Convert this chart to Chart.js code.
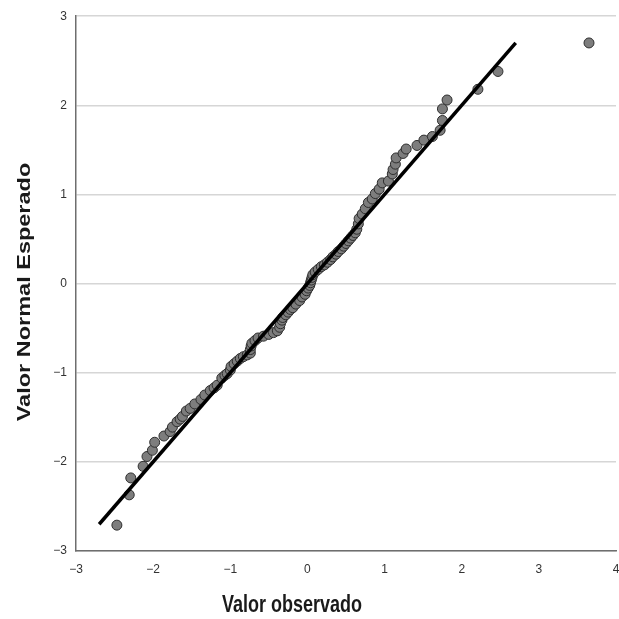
<!DOCTYPE html>
<html>
<head>
<meta charset="utf-8">
<script src="https://cdn.jsdelivr.net/npm/chart.js@4/dist/chart.umd.min.js"></script>
<style>
    html, body { margin: 0; padding: 0; background: #fff; overflow: hidden; }
    #wrap { width: 619px; height: 619px; overflow: hidden; }
</style>
</head>
<body>
<div id="wrap"><canvas id="qqChart" width="622" height="619"></canvas></div>
<script>
const observado = [
    -2.47, -2.31, -2.29, -2.13, -2.08, -2.01, -1.98, -1.86, -1.78, -1.75,
    -1.69, -1.65, -1.62, -1.57, -1.52, -1.46, -1.38, -1.33, -1.26, -1.21,
    -1.17, -1.11, -1.07, -1.04, -1.00, -0.99, -0.95, -0.91, -0.87, -0.83,
    -0.78, -0.74, -0.74, -0.73, -0.72, -0.68, -0.64, -0.57, -0.50, -0.44,
    -0.39, -0.36, -0.35, -0.33, -0.32, -0.28, -0.25, -0.22, -0.19, -0.15,
    -0.10, -0.07, -0.03, -0.01, 0.01, 0.03, 0.04, 0.05, 0.06, 0.07,
    0.10, 0.14, 0.18, 0.22, 0.26, 0.30, 0.33, 0.37, 0.40, 0.44,
    0.47, 0.50, 0.53, 0.56, 0.59, 0.62, 0.64, 0.66, 0.67, 0.71,
    0.75, 0.79, 0.84, 0.88, 0.93, 0.97, 1.05, 1.10, 1.11, 1.14,
    1.15, 1.24, 1.28, 1.42, 1.51, 1.62, 1.72, 1.75, 1.75, 1.81,
    2.21, 2.47, 3.65
];
const esperado = [
    -2.71, -2.37, -2.18, -2.05, -1.94, -1.87, -1.78, -1.71, -1.66, -1.61,
    -1.55, -1.52, -1.49, -1.43, -1.40, -1.35, -1.30, -1.25, -1.20, -1.17,
    -1.14, -1.06, -1.03, -1.01, -0.97, -0.93, -0.90, -0.87, -0.84, -0.82,
    -0.80, -0.78, -0.74, -0.70, -0.67, -0.64, -0.61, -0.59, -0.57, -0.55,
    -0.53, -0.49, -0.45, -0.41, -0.38, -0.35, -0.32, -0.29, -0.27, -0.23,
    -0.19, -0.15, -0.12, -0.08, -0.05, -0.02, 0.01, 0.04, 0.07, 0.10,
    0.13, 0.16, 0.19, 0.21, 0.24, 0.27, 0.30, 0.33, 0.36, 0.39,
    0.42, 0.45, 0.48, 0.51, 0.54, 0.57, 0.61, 0.67, 0.73, 0.78,
    0.84, 0.91, 0.95, 1.01, 1.06, 1.13, 1.15, 1.23, 1.28, 1.34,
    1.41, 1.46, 1.51, 1.55, 1.61, 1.65, 1.72, 1.83, 1.96, 2.06,
    2.18, 2.38, 2.70
];
// línea de referencia
const lineaX = [-2.7, 2.7];
const lineaY = [-2.7, 2.7];

const xTicks = [-3, -2, -1, 0, 1, 2, 3, 4];
const yTicks = [-3, -2, -1, 0, 1, 2, 3];

const tituloX = 'Valor observado';
const tituloY = 'Valor Normal Esperado';

const puntos = observado.map((x, i) => ({ x: x, y: esperado[i] }));
const linea = lineaX.map((x, i) => ({ x: x, y: lineaY[i] }));

const fuente = "'Liberation Sans', Arial, sans-serif";

// títulos de ejes, algo estrechados como en el original
const titulosPlugin = {
    id: 'titulos',
    afterDraw(chart) {
        const ctx = chart.ctx;
        ctx.save();
        ctx.fillStyle = '#1a1a1a';
        ctx.textAlign = 'center';
        ctx.textBaseline = 'alphabetic';

        ctx.save();
        ctx.font = "bold 24px " + fuente;
        ctx.translate(292, 612);
        ctx.scale(0.75, 1);
        ctx.fillText(tituloX, 0, 0);
        ctx.restore();

        ctx.save();
        ctx.font = "bold 23.5px " + fuente;
        ctx.translate(30, 292);
        ctx.scale(0.8, 1);
        ctx.rotate(-Math.PI / 2);
        ctx.fillText(tituloY, 0, 0);
        ctx.restore();

        ctx.restore();
    }
};

new Chart(document.getElementById('qqChart').getContext('2d'), {
    type: 'scatter',
    data: {
        datasets: [
            {
                type: 'line',
                data: linea,
                borderColor: '#000',
                borderWidth: 3.5,
                pointRadius: 0,
                fill: false,
                order: 0
            },
            {
                data: puntos,
                backgroundColor: '#7d7d7d',
                borderColor: '#2e2e2e',
                borderWidth: 1,
                pointRadius: 5,
                order: 1
            }
        ]
    },
    options: {
        responsive: false,
        animation: false,
        layout: { padding: { top: 14, right: 0, left: 0, bottom: 0 } },
        plugins: { legend: { display: false }, tooltip: { enabled: false } },
        scales: {
            x: {
                type: 'linear',
                min: -3, max: 4,
                afterBuildTicks: s => { s.ticks = xTicks.map(v => ({ value: v })); },
                afterFit: s => { s.height = 68; s.paddingRight = 0; s.paddingLeft = 0; },
                grid: { display: false, drawTicks: false },
                border: { display: true, color: '#6e6e6e', width: 1.5 },
                ticks: {
                    color: '#333',
                    padding: 11,
                    maxRotation: 0,
                    font: { family: fuente, size: 12 },
                    callback: v => String(v).replace('-', '\u2212')
                }
            },
            y: {
                type: 'linear',
                min: -3, max: 3,
                afterBuildTicks: s => { s.ticks = yTicks.map(v => ({ value: v })); },
                afterFit: s => { s.width = 76; },
                grid: {
                    color: '#d6d6d6',
                    lineWidth: 1.5,
                    drawTicks: false
                },
                border: { display: true, color: '#6e6e6e', width: 1.5 },
                ticks: {
                    color: '#333',
                    padding: 9,
                    font: { family: fuente, size: 12 },
                    callback: v => String(v).replace('-', '\u2212')
                }
            }
        }
    },
    plugins: [titulosPlugin]
});
</script>
</body>
</html>
